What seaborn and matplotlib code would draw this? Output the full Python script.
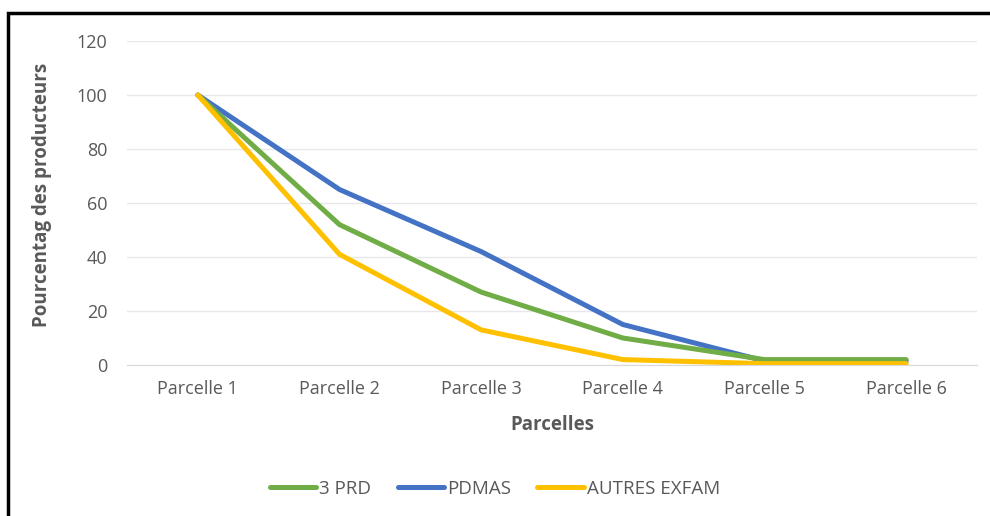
import numpy as np
import pandas as pd
import matplotlib
matplotlib.use('Agg')
import matplotlib.pyplot as plt
import seaborn as sns

# data
parcelles = ['Parcelle 1', 'Parcelle 2', 'Parcelle 3', 'Parcelle 4', 'Parcelle 5', 'Parcelle 6']
prd3 = [100, 52, 27, 10, 2, 2]
pdmas = [100, 65, 42, 15, 1.5, 1.5]
autres = [100, 41, 13, 2, 0.5, 0.5]
series_names = ['3 PRD', 'PDMAS', 'AUTRES EXFAM']
colors = ['#70AD47', '#4472C4', '#FFC000']

df = pd.DataFrame({
    'parcelle': parcelles * 3,
    'pct': prd3 + pdmas + autres,
    'serie': [series_names[0]] * 6 + [series_names[1]] * 6 + [series_names[2]] * 6,
})
df['x'] = df['parcelle'].map({p: i for i, p in enumerate(parcelles)})

sns.set_style('white')
plt.rcParams['font.family'] = ['Open Sans', 'DejaVu Sans']
txt = '#595959'
lw = 3.6

fig = plt.figure(figsize=(9.9, 5.16), dpi=100)
ax = fig.add_axes([127 / 990, 1 - 365 / 516, 850 / 990, 324 / 516])

# blue first so green sits on top where they overlap
for name in ['PDMAS', '3 PRD', 'AUTRES EXFAM']:
    sub = df[df['serie'] == name]
    sns.lineplot(data=sub, x='x', y='pct', color=colors[series_names.index(name)],
                 linewidth=lw, ax=ax, legend=False, sort=False, solid_capstyle='round')

ax.set_xlim(-0.5, 5.5)
ax.set_ylim(0, 120)
ax.set_yticks(range(0, 121, 20))
ax.set_xticks(range(6))
ax.set_xticklabels(parcelles)
ax.set_xticks(np.arange(-0.5, 6, 1), minor=True)
ax.tick_params(axis='x', which='major', length=0, pad=11, labelsize=13, labelcolor=txt)
ax.tick_params(axis='x', which='minor', length=5, color='#d9d9d9', width=1)
ax.tick_params(axis='y', length=0, pad=14, labelsize=13, labelcolor=txt)
ax.grid(axis='y', color='#e8e8ec', linewidth=1)
for s in ['top', 'right', 'left']:
    ax.spines[s].set_visible(False)
ax.spines['bottom'].set_color('#d9d9d9')
ax.set_axisbelow(True)

ax.set_xlabel('Parcelles', fontsize=13.5, fontweight='bold', color=txt, labelpad=12)
ax.set_ylabel('Pourcentag des producteurs', fontsize=13.5, fontweight='bold', color=txt)
ax.yaxis.set_label_coords(-0.088, 0.525)

handles = [plt.Line2D([], [], color=c, linewidth=lw, solid_capstyle='round') for c in colors]
fig.legend(handles, series_names, loc='center', bbox_to_anchor=(0.5, 1 - 489 / 516), ncol=3,
           frameon=False, fontsize=13.5, labelcolor=txt, handlelength=2.5, handletextpad=0.15,
           columnspacing=1.4)

# black frame (left and top edges visible in the reference)
fig.add_artist(plt.Rectangle((8 / 990, -0.05), 1.1, 1 - 13 / 516 + 0.05, transform=fig.transFigure,
                             fill=False, edgecolor='black', linewidth=2.5))

fig.savefig('out.png', dpi=100)
